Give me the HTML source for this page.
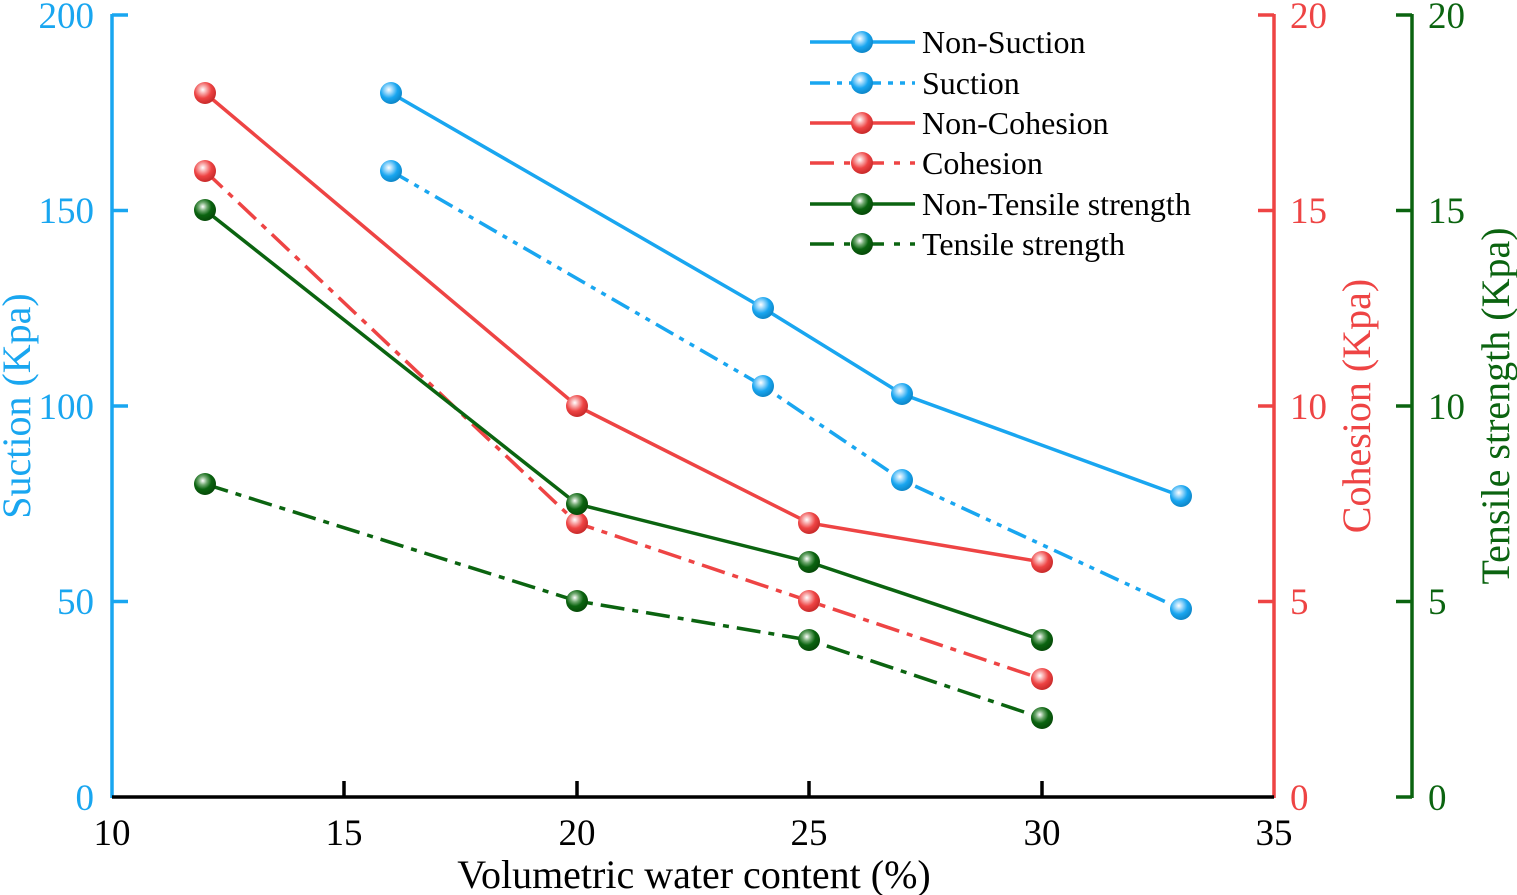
<!DOCTYPE html>
<html><head><meta charset="utf-8"><style>
html,body{margin:0;padding:0;background:#fff;}
svg{display:block;}
text{font-family:"Liberation Serif","Times New Roman",serif;}
</style></head><body>
<svg width="1517" height="895" viewBox="0 0 1517 895" xmlns="http://www.w3.org/2000/svg">
<defs>
<radialGradient id="gb" cx="0.4" cy="0.35" r="0.65"><stop offset="0" stop-color="#fff"/><stop offset="0.3" stop-color="#8fd3fa"/><stop offset="0.6" stop-color="#19a6f0"/><stop offset="1" stop-color="#0d86c8"/></radialGradient>
<radialGradient id="gr" cx="0.4" cy="0.35" r="0.65"><stop offset="0" stop-color="#fff"/><stop offset="0.3" stop-color="#f7a0a0"/><stop offset="0.6" stop-color="#ee4444"/><stop offset="1" stop-color="#c82a2a"/></radialGradient>
<radialGradient id="gg" cx="0.4" cy="0.35" r="0.65"><stop offset="0" stop-color="#fff"/><stop offset="0.3" stop-color="#6fa86f"/><stop offset="0.6" stop-color="#0b6410"/><stop offset="1" stop-color="#064a08"/></radialGradient>
</defs>
<g fill="none" stroke-width="3.5">
<line x1="112" y1="14" x2="112" y2="798" stroke="#19a6f0"/>
<line x1="1274" y1="14" x2="1274" y2="798" stroke="#ee4444"/>
<line x1="1412" y1="14" x2="1412" y2="798" stroke="#0b6410"/>
<line x1="112" y1="797" x2="1274" y2="797" stroke="#000"/>
<g stroke="#19a6f0"><line x1="112" y1="15" x2="128" y2="15"/><line x1="112" y1="210.5" x2="128" y2="210.5"/><line x1="112" y1="406" x2="128" y2="406"/><line x1="112" y1="601.5" x2="128" y2="601.5"/></g>
<g stroke="#ee4444"><line x1="1258" y1="15" x2="1274" y2="15"/><line x1="1258" y1="210.5" x2="1274" y2="210.5"/><line x1="1258" y1="406" x2="1274" y2="406"/><line x1="1258" y1="601.5" x2="1274" y2="601.5"/></g>
<g stroke="#0b6410"><line x1="1396" y1="15" x2="1412" y2="15"/><line x1="1396" y1="210.5" x2="1412" y2="210.5"/><line x1="1396" y1="406" x2="1412" y2="406"/><line x1="1396" y1="601.5" x2="1412" y2="601.5"/><line x1="1396" y1="797" x2="1412" y2="797"/></g>
<g stroke="#000"><line x1="344" y1="781" x2="344" y2="797"/><line x1="577" y1="781" x2="577" y2="797"/><line x1="809" y1="781" x2="809" y2="797"/><line x1="1042" y1="781" x2="1042" y2="797"/></g>
<polyline stroke="#19a6f0" points="391,93 763,308 902,394 1181,496"/>
<polyline stroke="#19a6f0" stroke-dasharray="20,7,5,7,5,7" points="391,171 763,386 902,480 1181,609"/>
<polyline stroke="#ee4444" points="205,93 577,406 809,523 1042,562"/>
<polyline stroke="#ee4444" stroke-dasharray="24,8,6,8" points="205,171 577,523 809,601 1042,679"/>
<polyline stroke="#0b6410" points="205,210 577,504 809,562 1042,640"/>
<polyline stroke="#0b6410" stroke-dasharray="24,8,6,8" points="205,484 577,601 809,640 1042,718"/>
<line x1="810" y1="42" x2="915" y2="42" stroke="#19a6f0"/>
<line x1="810" y1="83" x2="915" y2="83" stroke="#19a6f0" stroke-dasharray="20,7,5,7,5,7"/>
<line x1="810" y1="123" x2="915" y2="123" stroke="#ee4444"/>
<line x1="810" y1="163" x2="915" y2="163" stroke="#ee4444" stroke-dasharray="24,10,6,10"/>
<line x1="810" y1="204" x2="915" y2="204" stroke="#0b6410"/>
<line x1="810" y1="244" x2="915" y2="244" stroke="#0b6410" stroke-dasharray="24,10,6,10"/>
</g>
<g fill="url(#gb)">
<circle cx="391" cy="93" r="11"/><circle cx="763" cy="308" r="11"/><circle cx="902" cy="394" r="11"/><circle cx="1181" cy="496" r="11"/>
<circle cx="391" cy="171" r="11"/><circle cx="763" cy="386" r="11"/><circle cx="902" cy="480" r="11"/><circle cx="1181" cy="609" r="11"/>
<circle cx="862" cy="42" r="11"/><circle cx="862" cy="83" r="11"/>
</g>
<g fill="url(#gr)">
<circle cx="205" cy="93" r="11"/><circle cx="577" cy="406" r="11"/><circle cx="809" cy="523" r="11"/><circle cx="1042" cy="562" r="11"/>
<circle cx="205" cy="171" r="11"/><circle cx="577" cy="523" r="11"/><circle cx="809" cy="601" r="11"/><circle cx="1042" cy="679" r="11"/>
<circle cx="862" cy="123" r="11"/><circle cx="862" cy="163" r="11"/>
</g>
<g fill="url(#gg)">
<circle cx="205" cy="210" r="11"/><circle cx="577" cy="504" r="11"/><circle cx="809" cy="562" r="11"/><circle cx="1042" cy="640" r="11"/>
<circle cx="205" cy="484" r="11"/><circle cx="577" cy="601" r="11"/><circle cx="809" cy="640" r="11"/><circle cx="1042" cy="718" r="11"/>
<circle cx="862" cy="204" r="11"/><circle cx="862" cy="244" r="11"/>
</g>
<g font-size="37" fill="#19a6f0" text-anchor="end">
<text x="94" y="28">200</text><text x="94" y="223">150</text><text x="94" y="419">100</text><text x="94" y="614">50</text><text x="94" y="810">0</text>
</g>
<g font-size="37" fill="#ee4444">
<text x="1290" y="28">20</text><text x="1290" y="223">15</text><text x="1290" y="419">10</text><text x="1290" y="614">5</text><text x="1290" y="810">0</text>
</g>
<g font-size="37" fill="#0b6410">
<text x="1428" y="28">20</text><text x="1428" y="223">15</text><text x="1428" y="419">10</text><text x="1428" y="614">5</text><text x="1428" y="810">0</text>
</g>
<g font-size="37" fill="#000" text-anchor="middle">
<text x="112" y="845">10</text><text x="344" y="845">15</text><text x="577" y="845">20</text><text x="809" y="845">25</text><text x="1042" y="845">30</text><text x="1274" y="845">35</text>
</g>
<text x="694" y="888" font-size="40" text-anchor="middle" fill="#000">Volumetric water content (%)</text>
<text transform="translate(30,406) rotate(-90)" font-size="40" text-anchor="middle" fill="#19a6f0">Suction (Kpa)</text>
<text transform="translate(1370,406) rotate(-90)" font-size="40" text-anchor="middle" fill="#ee4444">Cohesion (Kpa)</text>
<text transform="translate(1509,406) rotate(-90)" font-size="40" text-anchor="middle" fill="#0b6410">Tensile strength (Kpa)</text>
<g font-size="32" fill="#000">
<text x="922" y="53">Non-Suction</text><text x="922" y="94">Suction</text><text x="922" y="134">Non-Cohesion</text><text x="922" y="174">Cohesion</text><text x="922" y="215">Non-Tensile strength</text><text x="922" y="255">Tensile strength</text>
</g>
</svg>
</body></html>
